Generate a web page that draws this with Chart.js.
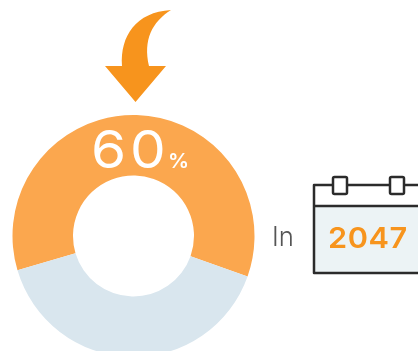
<!DOCTYPE html>
<html>
<head>
<meta charset="utf-8">
<title>60% in 2047</title>
<script src="https://cdn.jsdelivr.net/npm/chart.js@4"></script>
<style>
    html, body { margin: 0; padding: 0; background: #fff; }
    #stage { position: relative; width: 418px; height: 351px; overflow: hidden; }
    #stage canvas { position: absolute; left: 0; top: 0; }
    #stage svg { position: absolute; left: 0; top: 0; }
    .txt { position: absolute; font-family: Inter, sans-serif; line-height: 1; white-space: nowrap; transform-origin: left top; }
    #pct { left: 91px; top: 124px; font-size: 52px; font-weight: 400; letter-spacing: 3.5px; color: #fff; transform: scaleX(1.09); }
    #pctSign { left: 168px; top: 151px; font-size: 20px; font-weight: 600; color: #fff; transform: scaleX(1.05); }
    #inWord { left: 272px; top: 223px; font-size: 27px; font-weight: 300; color: #555; transform: scaleX(0.95); }
    #year { left: 328px; top: 223px; font-size: 29px; font-weight: 600; letter-spacing: 0.5px; color: #f7941d; transform: scaleX(1.06); }
</style>
</head>
<body>
<div id="stage">
    <canvas id="donut" width="267" height="472" style="width:267px;height:472px"></canvas>
    <svg width="418" height="351" viewBox="0 0 418 351">
        <path d="M105 66 H122 C120 36 136 12 171 10 C152 22 143 40 149 66 H166 L135.5 102 Z" fill="#f7941d"/>
        <path d="M314 273 V185 H420 V273 Z" fill="#fff"/>
        <path d="M314 206 H420 V273 H314 Z" fill="#ecf3f5"/>
        <path d="M420 185 H314 V273 H420 M314 206 H420" fill="none" stroke="#2b2b2b" stroke-width="2.5" stroke-linejoin="round"/>
        <rect x="333" y="177" width="14" height="17" rx="1.5" fill="#fff" stroke="#2b2b2b" stroke-width="2.5"/>
        <rect x="390" y="177" width="14" height="17" rx="1.5" fill="#fff" stroke="#2b2b2b" stroke-width="2.5"/>
    </svg>
    <div class="txt" id="pct"></div>
    <div class="txt" id="pctSign">%</div>
    <div class="txt" id="inWord"></div>
    <div class="txt" id="year"></div>
</div>
<script>
const categories = ["Share", "Rest"];
const shareValues = [60, 40];
const sliceColors = ["#fba74e", "#d9e6ee"];
const startAngle = -106.5;
const headline = "60";
const inWord = "In";
const yearLabel = "2047";

document.addEventListener("DOMContentLoaded", () => {
    document.getElementById("pct").innerText = headline;
    document.getElementById("inWord").innerText = inWord;
    document.getElementById("year").innerText = yearLabel;

    new Chart(document.getElementById("donut"), {
        type: "doughnut",
        data: {
            labels: categories,
            datasets: [{
                data: shareValues,
                backgroundColor: sliceColors,
                borderWidth: 0
            }]
        },
        options: {
            responsive: false,
            animation: false,
            rotation: startAngle,
            radius: 121,
            cutout: "50%",
            layout: { padding: 0 },
            plugins: {
                legend: { display: false },
                tooltip: { enabled: false }
            }
        }
    });
});
</script>
</body>
</html>
